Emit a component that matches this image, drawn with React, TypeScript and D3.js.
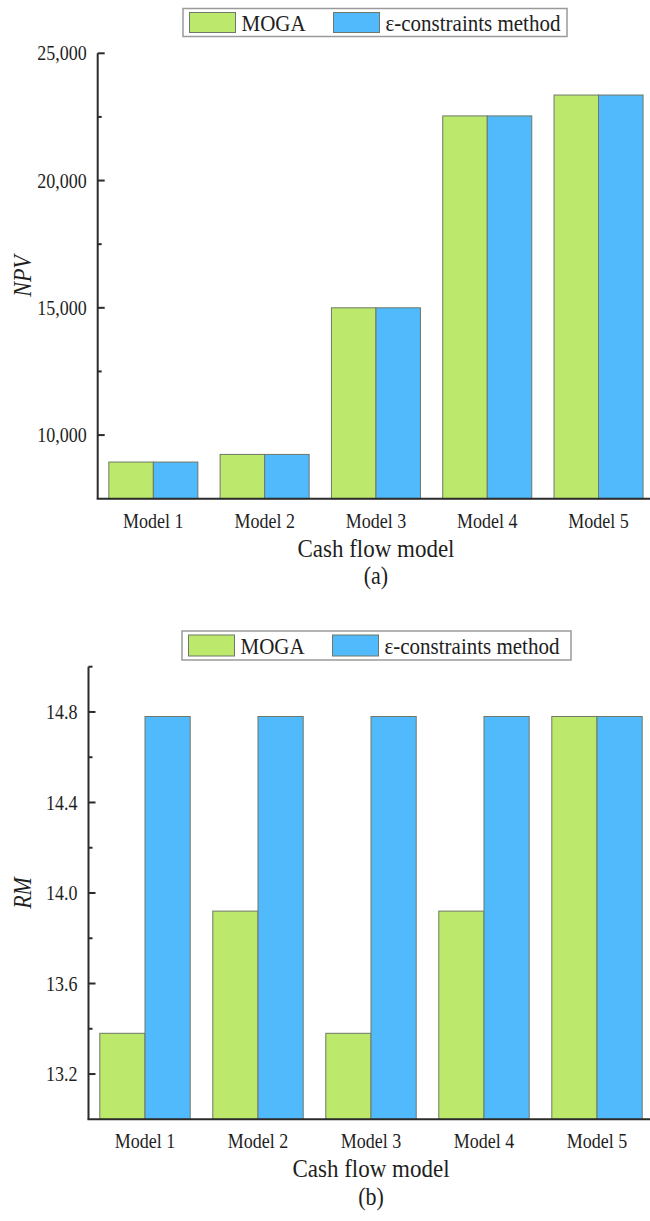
import React, { useEffect, useRef } from "react";
import * as d3 from "d3";

// Cash flow models compared in both panels
const categories = ["Model 1", "Model 2", "Model 3", "Model 4", "Model 5"];
const seriesNames = ["MOGA", "ε-constraints method"];

// Panel (a): NPV
const npvMoga = [8940, 9240, 15000, 22540, 23360];
const npvEps = [8940, 9240, 15000, 22540, 23360];
const npvTicks = [10000, 15000, 20000, 25000];
const npvMinorTicks = [12500, 17500, 22500];

// Panel (b): RM
const rmMoga = [13.38, 13.92, 13.38, 13.92, 14.78];
const rmEps = [14.78, 14.78, 14.78, 14.78, 14.78];
const rmTicks = [13.2, 13.6, 14.0, 14.4, 14.8];
const rmMinorTicks = [13.4, 13.8, 14.2, 14.6, 15.0];

const COLORS = ["#bce96c", "#50bafd"];
const FONT = "'Liberation Serif', 'Times New Roman', serif";
const AXIS = "#2b2b2b";
const TEXT = "#1e1e1e";
// glyphs are drawn slightly taller than wide
const STRETCH = 1.14;

type Panel = {
  x0: number;
  x1: number;
  yTop: number;
  yBase: number;
  domain: [number, number];
  values: number[][];
  ticks: number[];
  minor: number[];
  fmt: (v: number) => string;
  title: string;
  caption: string;
  legend: { x: number; y: number; w: number; h: number };
};

const panels: Panel[] = [
  {
    x0: 97.7,
    x1: 654.2,
    yTop: 53.3,
    yBase: 498.7,
    domain: [7500, 25000],
    values: [npvMoga, npvEps],
    ticks: npvTicks,
    minor: npvMinorTicks,
    fmt: d3.format(",.0f"),
    title: "NPV",
    caption: "(a)",
    legend: { x: 183, y: 8.5, w: 384, h: 28 },
  },
  {
    x0: 88.5,
    x1: 653.5,
    yTop: 666.7,
    yBase: 1119.3,
    domain: [13.0, 15.0],
    values: [rmMoga, rmEps],
    ticks: rmTicks,
    minor: rmMinorTicks,
    fmt: d3.format(".1f"),
    title: "RM",
    caption: "(b)",
    legend: { x: 182, y: 631, w: 389, h: 29 },
  },
];

type G = d3.Selection<SVGGElement, unknown, null, undefined>;

function label(
  g: G,
  x: number,
  y: number,
  str: string,
  size: number,
  anchor: string,
  extra = ""
) {
  return g
    .append("text")
    .attr("transform", `translate(${x},${y}) ${extra} scale(1,${STRETCH})`)
    .attr("dy", "0.35em")
    .attr("text-anchor", anchor)
    .attr("font-family", FONT)
    .attr("font-size", size)
    .attr("fill", TEXT)
    .text(str);
}

function drawPanel(g: G, p: Panel) {
  const x = d3.scaleBand<string>().domain(categories).range([p.x0, p.x1]).padding(0);
  const inner = d3
    .scaleBand<string>()
    .domain(seriesNames)
    .range([x.bandwidth() * 0.1, x.bandwidth() * 0.9])
    .padding(0);
  const y = d3.scaleLinear().domain(p.domain).range([p.yBase, p.yTop]);

  // bars
  seriesNames.forEach((s, si) => {
    g.append("g")
      .selectAll("rect")
      .data(p.values[si])
      .join("rect")
      .attr("x", (_, i) => (x(categories[i]) as number) + (inner(s) as number))
      .attr("y", (d) => y(d))
      .attr("width", inner.bandwidth())
      .attr("height", (d) => p.yBase - y(d))
      .attr("fill", COLORS[si])
      .attr("stroke", "#6e7866")
      .attr("stroke-width", 1);
  });

  // y axis line
  g.append("line")
    .attr("x1", p.x0)
    .attr("x2", p.x0)
    .attr("y1", p.yTop)
    .attr("y2", p.yBase)
    .attr("stroke", AXIS)
    .attr("stroke-width", 2);
  // major and minor ticks, pointing into the plot
  g.append("g")
    .selectAll("line")
    .data(p.ticks)
    .join("line")
    .attr("x1", p.x0)
    .attr("x2", p.x0 + 7)
    .attr("y1", (d) => y(d))
    .attr("y2", (d) => y(d))
    .attr("stroke", AXIS)
    .attr("stroke-width", 2);
  g.append("g")
    .selectAll("line")
    .data(p.minor)
    .join("line")
    .attr("x1", p.x0)
    .attr("x2", p.x0 + 4)
    .attr("y1", (d) => y(d))
    .attr("y2", (d) => y(d))
    .attr("stroke", AXIS)
    .attr("stroke-width", 2);
  p.ticks.forEach((t) => label(g, p.x0 - 11, y(t), p.fmt(t), 18, "end"));

  // x axis line
  g.append("line")
    .attr("x1", p.x0 - 1)
    .attr("x2", p.x1)
    .attr("y1", p.yBase)
    .attr("y2", p.yBase)
    .attr("stroke", AXIS)
    .attr("stroke-width", 2);
  categories.forEach((c) =>
    label(g, (x(c) as number) + x.bandwidth() / 2, p.yBase + 22, c, 18, "middle")
  );

  const cx = (p.x0 + p.x1) / 2;
  label(g, cx, p.yBase + 49, "Cash flow model", 23, "middle");
  label(g, cx, p.yBase + 77, p.caption, 22, "middle");

  // y axis title
  const ty = (p.yTop + p.yBase) / 2;
  label(g, 22, ty, p.title, 22, "middle", "rotate(-90)").attr("font-style", "italic");

  // legend
  const L = p.legend;
  const lg = g.append("g");
  lg.append("rect")
    .attr("x", L.x)
    .attr("y", L.y)
    .attr("width", L.w)
    .attr("height", L.h)
    .attr("fill", "#fff")
    .attr("stroke", "#9a9a9a")
    .attr("stroke-width", 1.5);
  const swX = [L.x + 6.5, L.x + 150.5];
  seriesNames.forEach((s, i) => {
    lg.append("rect")
      .attr("x", swX[i])
      .attr("y", L.y + 4)
      .attr("width", 46)
      .attr("height", L.h - 8)
      .attr("fill", COLORS[i])
      .attr("stroke", "#6e7866")
      .attr("stroke-width", 1);
    label(lg, swX[i] + 52, L.y + L.h / 2, s, 21, "start");
  });
}

export default function App() {
  const ref = useRef<SVGSVGElement>(null);
  useEffect(() => {
    const svg = d3.select(ref.current as SVGSVGElement);
    svg.selectAll("*").remove();
    panels.forEach((p) => drawPanel(svg.append("g"), p));
  }, []);
  return (
    <svg
      ref={ref}
      width={650}
      height={1221}
      style={{ position: "absolute", left: 0, top: 0, background: "#fff", display: "block" }}
    />
  );
}
